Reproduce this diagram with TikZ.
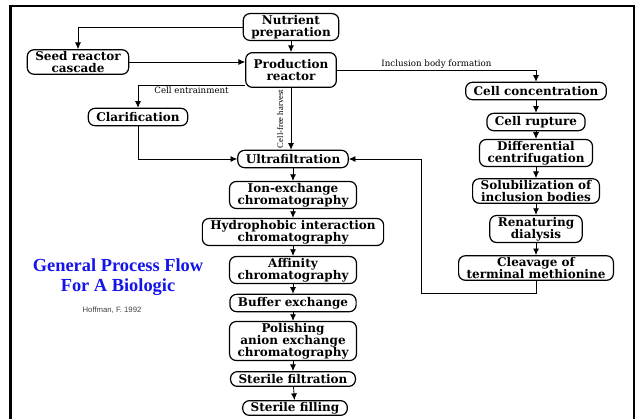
\documentclass[tikz,border=0pt]{standalone}
\usepackage{fontspec}
\setmainfont{DejaVu Serif}
\newfontfamily\timesfont{Liberation Serif}
\newfontfamily\arialfont{Liberation Sans}
\usetikzlibrary{arrows.meta}
\definecolor{titleblue}{RGB}{20,20,235}
\tikzset{
	stage/.style={draw, line width=0.9pt, rounded corners=5pt, align=center, font=\bfseries\fontsize{9}{9}\selectfont, inner xsep=6pt, inner ysep=1.2pt, minimum height=13pt},
	flow/.style={line width=0.6pt, -{Latex[length=5pt,width=4.5pt]}},
	tag/.style={font=\fontsize{6.5}{7}\selectfont, inner sep=1pt},
}
\begin{document}
\begin{tikzpicture}[x=0.75pt, y=-0.75pt]
	\useasboundingbox (0,0) rectangle (641,419);
	% frame
	\draw[line width=2.2pt] (10.5,419) -- (10.5,6) -- (634,6) -- (634,419);
	% upstream
	\node[stage] (nutrient) at (291,27) {Nutrient\\preparation};
	\node[stage, minimum height=26pt] (production) at (291,70) {Production\\reactor};
	\node[stage] (seed) at (78,62) {Seed reactor\\cascade};
	\node[stage] (clarify) at (138,117) {Clarification};
	% main column
	\node[stage] (ultra) at (293,159) {Ultrafiltration};
	\node[stage] (ionex) at (293,195) {Ion-exchange\\chromatography};
	\node[stage] (hydro) at (293,232) {Hydrophobic interaction\\chromatography};
	\node[stage] (affinity) at (293,270) {Affinity\\chromatography};
	\node[stage] (buffer) at (293,303) {Buffer exchange};
	\node[stage] (polish) at (293,341) {Polishing\\anion exchange\\chromatography};
	\node[stage, minimum height=11pt, inner ysep=0.5pt] (sterfilt) at (293,379) {Sterile filtration};
	\node[stage, minimum height=11pt, inner ysep=0.5pt] (sterfill) at (295,408) {Sterile filling};
	% inclusion body column
	\node[stage] (concentr) at (536,91) {Cell concentration};
	\node[stage] (rupture) at (536,122) {Cell rupture};
	\node[stage] (centrif) at (536,153) {Differential\\centrifugation};
	\node[stage] (solub) at (536,191) {Solubilization of\\inclusion bodies};
	\node[stage] (renat) at (536,229) {Renaturing\\dialysis};
	\node[stage] (cleave) at (536,268) {Cleavage of\\terminal methionine};
	% title
	\node[font=\timesfont\bfseries\fontsize{13.8}{15}\selectfont, text=titleblue, align=center] (title) at (118,277) {General Process Flow\\For A Biologic};
	\node[font=\arialfont\fontsize{5.8}{7}\selectfont, text=black!75] (source) at (112,310) {Hoffman, F. 1992};
	% connectors
	\draw[flow] (nutrient.west) -| (seed.north);
	\draw[flow] (nutrient) -- (production);
	\draw[flow] (seed.east) -- (seed.east -| production.west);
	\draw[flow] ([yshift=2pt]production.south west) -| (clarify.north) node[tag, pos=0.25, below] (entrain) {Cell entrainment};
	\draw[flow] (clarify.south) |- (ultra.west);
	\draw[flow] (production.south) -- (production.south |- ultra.north);
	\node[font=\timesfont\fontsize{6.5}{7}\selectfont, rotate=90, inner sep=1pt] (harvest) at (280,119) {Cell-free harvest};
	\draw[flow] (production.east) -| (concentr.north) node[tag, pos=0.25, above] (inclusion) {Inclusion body formation};
	\draw[flow] (concentr) -- (rupture);
	\draw[flow] (rupture) -- (centrif);
	\draw[flow] (centrif) -- (solub);
	\draw[flow] (solub) -- (renat);
	\draw[flow] (renat) -- (cleave);
	\coordinate (turn) at (421,293);
	\draw[flow] (cleave.south) |- (turn) |- (ultra.east);
	\draw[flow] (ultra) -- (ionex);
	\draw[flow] (ionex) -- (hydro);
	\draw[flow] (hydro) -- (affinity);
	\draw[flow] (affinity) -- (buffer);
	\draw[flow] (buffer) -- (polish);
	\draw[flow] (polish) -- (sterfilt);
	\draw[flow] (sterfilt) -- (sterfill);
\end{tikzpicture}
\end{document}
